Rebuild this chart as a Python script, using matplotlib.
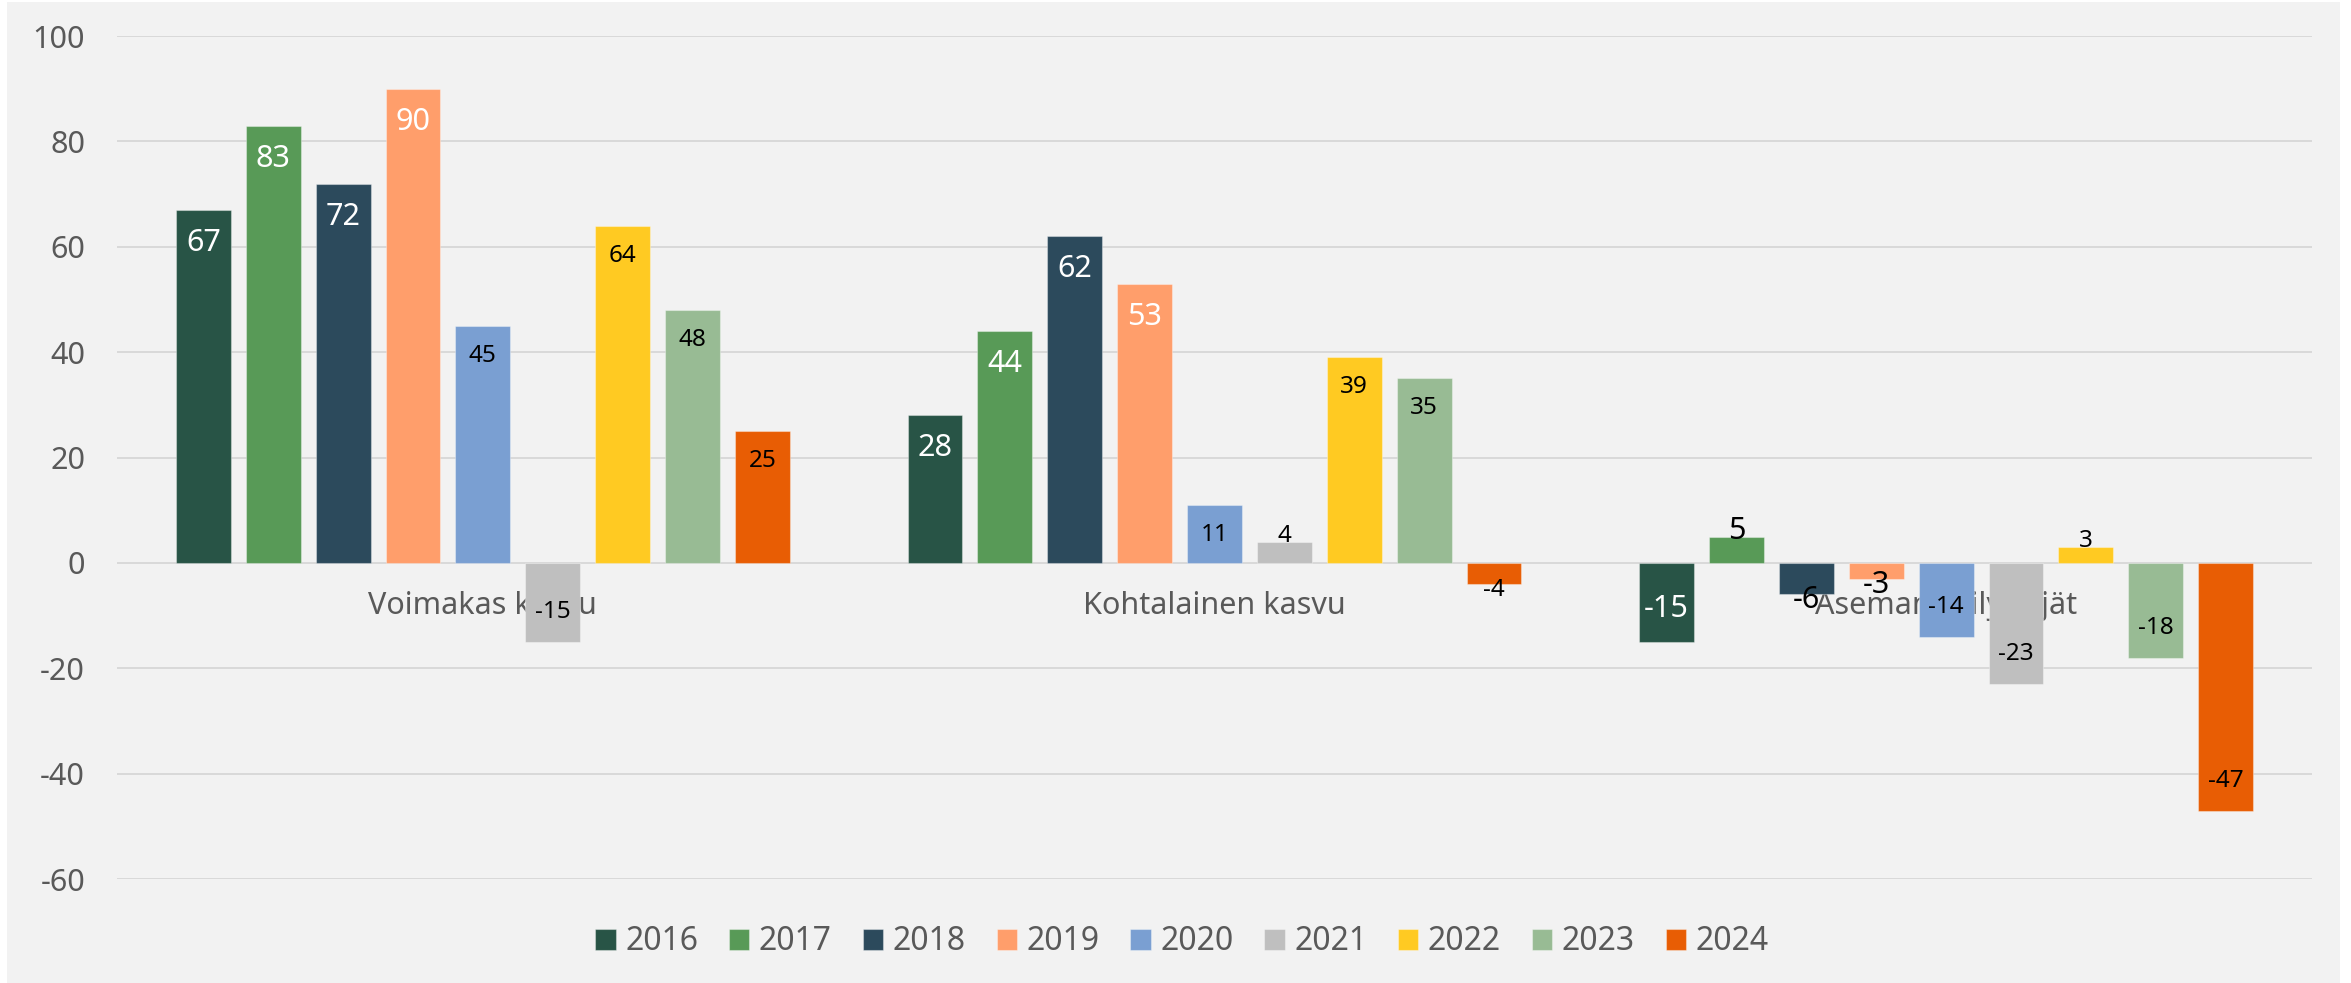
import numpy as np
import matplotlib
matplotlib.use('Agg')
import matplotlib.pyplot as plt
from matplotlib.patches import Rectangle

plt.rcParams['font.family'] = ['Noto Sans', 'DejaVu Sans']
plt.rcParams['axes.unicode_minus'] = False

# data
categories = ['Voimakas kasvu', 'Kohtalainen kasvu', 'Aseman säilyttäjät']
years = ['2016', '2017', '2018', '2019', '2020', '2021', '2022', '2023', '2024']
v2016 = [67, 28, -15]
v2017 = [83, 44, 5]
v2018 = [72, 62, -6]
v2019 = [90, 53, -3]
v2020 = [45, 11, -14]
v2021 = [-15, 4, -23]
v2022 = [64, 39, 3]
v2023 = [48, 35, -18]
v2024 = [25, -4, -47]
series = [v2016, v2017, v2018, v2019, v2020, v2021, v2022, v2023, v2024]
y_ticks = [-60, -40, -20, 0, 20, 40, 60, 80, 100]

colors = ['#285446', '#589A57', '#2C4A5C', '#FF9E6B', '#7A9FD2',
          '#BFBFBF', '#FFCA22', '#98BB94', '#E85D04']

fig = plt.figure(figsize=(23.51, 9.83), dpi=100, facecolor='white')
# grey chart area with a thin white margin on the left/top/right
fig.patches.append(Rectangle((7 / 2351, 0), (2340 - 7) / 2351, 1 - 2 / 983,
                             transform=fig.transFigure, facecolor='#F2F2F2',
                             edgecolor='none', zorder=-1))

ax = fig.add_axes([117 / 2351, 1 - 879 / 983, 2195 / 2351, (879 - 36) / 983])
ax.set_zorder(1)
ax.set_facecolor('none')

x = np.arange(len(categories))
pitch = 0.0955
width = 0.075
px = 72 / 100  # points per pixel

for i, (vals, c) in enumerate(zip(series, colors)):
    xs = x + (i - 4) * pitch
    bars = ax.bar(xs, vals, width, color=c, label=years[i], zorder=2,
                  edgecolor=(1, 1, 1, 0.35), linewidth=0.8)
    big = i < 4
    fs = 22 if big else 17.5
    for xb, v in zip(xs, vals):
        sgn = 1 if v >= 0 else -1
        if abs(v) >= 10:
            off = -sgn * (33 if big else 30)
            col = 'white' if big else 'black'
        else:
            off = sgn * 6
            col = 'black'
        ax.annotate(str(v), (xb, v), xytext=(0, off * px), textcoords='offset points',
                    ha='center', va='center', fontsize=fs, color=col, zorder=5)

ax.set_xlim(-0.5, 2.5)
ax.set_ylim(-60, 100)
ax.set_yticks(y_ticks)
ax.set_xticks(x)
ax.set_xticklabels(categories)

ax.grid(axis='y', color='#D9D9D9', linewidth=2 * px, zorder=0)
ax.set_axisbelow(True)
for s in ax.spines.values():
    s.set_visible(False)
ax.spines['bottom'].set_position(('data', 0))

ax.tick_params(axis='y', length=0, pad=32 * px, labelsize=22, labelcolor='#595959')
ax.tick_params(axis='x', length=0, pad=28 * px, labelsize=22, labelcolor='#595959')

leg = fig.legend(loc='center', bbox_to_anchor=(1182 / 2351, 1 - 942 / 983), ncol=9,
                 frameon=False, fontsize=23, handlelength=0.63, handleheight=0.63,
                 handletextpad=0.3, columnspacing=0.97, labelcolor='#595959')

plt.savefig('out.png', dpi=100, facecolor=fig.get_facecolor())
